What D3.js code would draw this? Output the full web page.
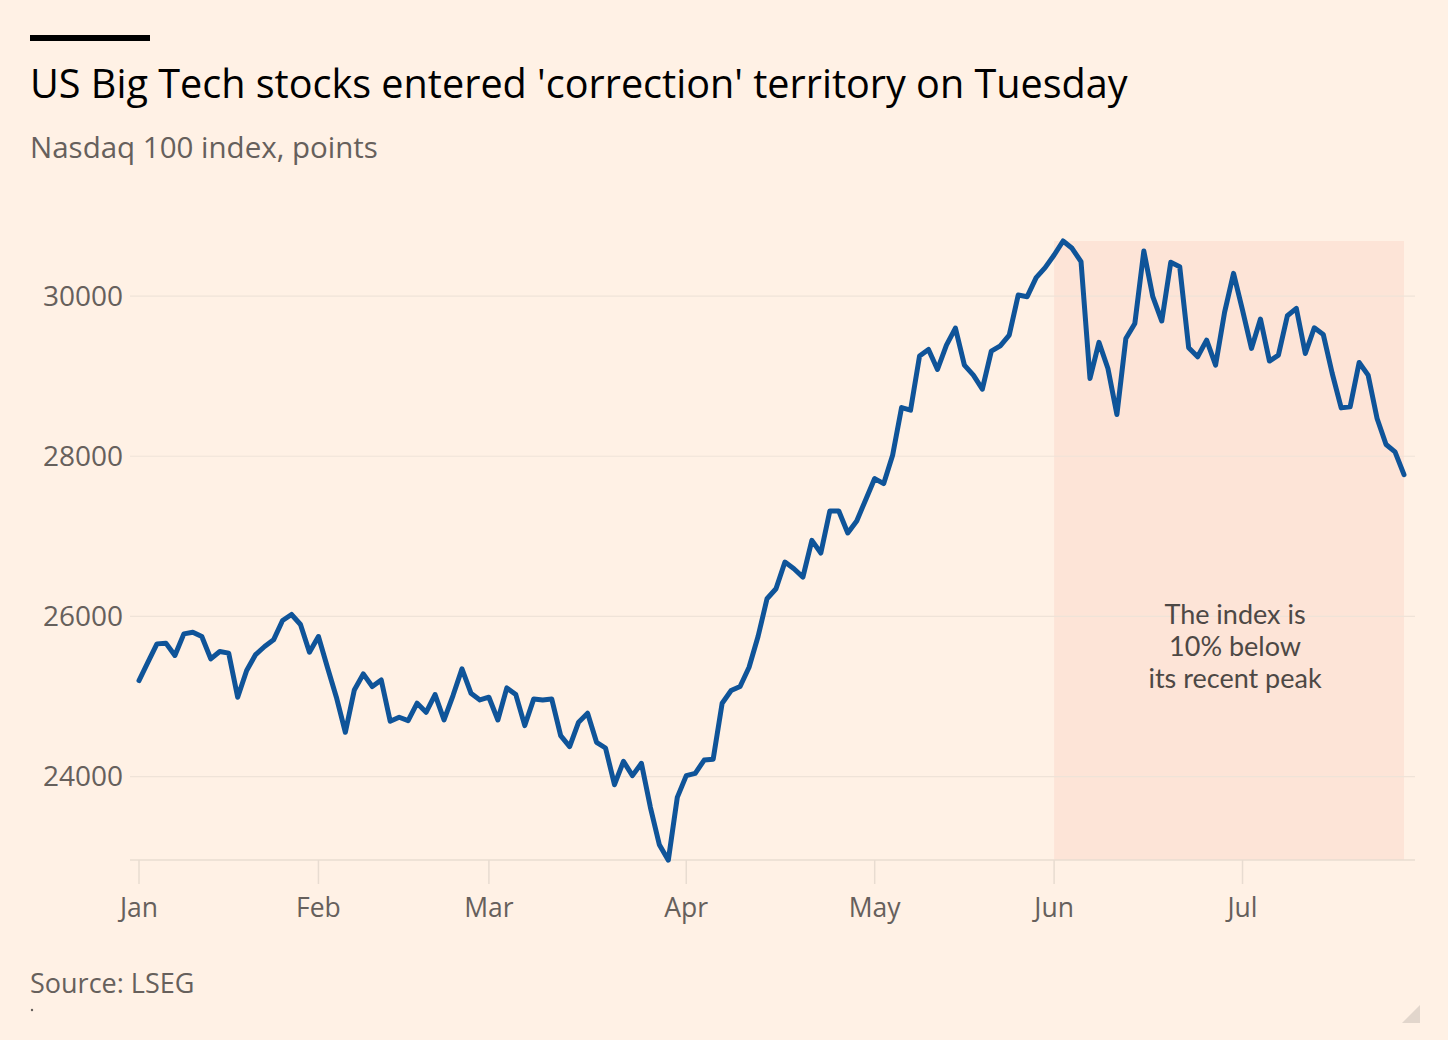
<!DOCTYPE html>
<html>
<head>
<meta charset="utf-8">
<script src="https://cdn.jsdelivr.net/npm/d3@7"></script>
<style>
  html, body { margin: 0; padding: 0; background: #fff1e5; }
  svg { display: block; font-family: "Open Sans", "Noto Sans", sans-serif; }
</style>
</head>
<body>
<svg id="svg01" width="1448" height="1040"></svg>
<script>
// Nasdaq 100 closing points, one value per trading session
const closes = [
  25200, 25429, 25658, 25667, 25513, 25783, 25804, 25750, 25471, 25563,
  25542, 24992, 25325, 25525, 25625, 25708, 25950, 26025, 25900, 25554,
  25750, 25367, 24992, 24554, 25083, 25283, 25125, 25208, 24692, 24742,
  24700, 24917, 24804, 25025, 24708, 25013, 25346, 25042, 24958, 24992,
  24708, 25108, 25025, 24638, 24971, 24958, 24971, 24513, 24375, 24680,
  24792, 24429, 24358, 23900, 24192, 24013, 24167, 23617, 23150, 22958,
  23742, 24013, 24042, 24208, 24219, 24917, 25075, 25125, 25367, 25750,
  26221, 26346, 26679, 26596, 26492, 26950, 26792, 27317, 27317, 27042,
  27192, 27458, 27721, 27658, 28013, 28608, 28575, 29250, 29333, 29083,
  29388, 29600, 29138, 29013, 28838, 29313, 29379, 29513, 30012, 29992,
  30229, 30354, 30512, 30687, 30596, 30429, 28971, 29421, 29096, 28521,
  29471, 29658, 30562, 29992, 29688, 30421, 30367, 29354, 29242, 29450,
  29138, 29796, 30283, 29825, 29346, 29713, 29188, 29263, 29754, 29846,
  29283, 29604, 29521, 29033, 28604, 28617, 29171, 29013, 28471, 28146,
  28054, 27771
];

// month labels and the session index where each month starts
const monthLabels = ["Jan", "Feb", "Mar", "Apr", "May", "Jun", "Jul"];
const monthStart  = [0, 20, 39, 61, 82, 102, 123];

const yTicks = [24000, 26000, 28000, 30000];

// correction period shaded from June start to the latest session
const shadeFrom = 102;
const noteLines = ["The index is", "10% below", "its recent peak"];

const svg = d3.select("#svg01");
const width = 1448, height = 1040;
const margin = {left: 139, right: 44, top: 241, bottom: 180};
const plotLeft = 130, plotRight = 1415;

const x = d3.scaleLinear()
  .domain([0, closes.length - 1])
  .range([margin.left, width - margin.right]);

const y = d3.scaleLinear()
  .domain([22960, 30687])
  .range([height - margin.bottom, margin.top]);

// header
svg.append("rect").attr("x", 30).attr("y", 35).attr("width", 120).attr("height", 6).attr("fill", "#000");

svg.append("text")
  .attr("x", 30).attr("y", 98)
  .attr("font-size", 39.6).attr("fill", "#000")
  .text("US Big Tech stocks entered 'correction' territory on Tuesday");

svg.append("text")
  .attr("x", 30).attr("y", 158)
  .attr("font-size", 29.5).attr("fill", "#66605c")
  .text("Nasdaq 100 index, points");

// shaded region
const peak = d3.max(closes);
svg.append("rect")
  .attr("x", x(shadeFrom))
  .attr("y", y(peak))
  .attr("width", x(closes.length - 1) - x(shadeFrom))
  .attr("height", y(y.domain()[0]) - y(peak))
  .attr("fill", "#fde4d7");

// gridlines + y labels
const grid = svg.append("g");
grid.selectAll("line")
  .data(yTicks)
  .join("line")
  .attr("x1", plotLeft).attr("x2", plotRight)
  .attr("y1", d => y(d)).attr("y2", d => y(d))
  .attr("stroke", "#efe3d8").attr("stroke-width", 1.2);

grid.selectAll("text")
  .data(yTicks)
  .join("text")
  .attr("x", 123).attr("y", d => y(d))
  .attr("dy", "0.35em")
  .attr("text-anchor", "end")
  .attr("font-size", 28).attr("fill", "#66605c")
  .text(d => d);

// x axis
const base = y(y.domain()[0]);
const xAxis = svg.append("g");
xAxis.append("line")
  .attr("x1", plotLeft).attr("x2", plotRight)
  .attr("y1", base).attr("y2", base)
  .attr("stroke", "#e8dcd1").attr("stroke-width", 1.5);

const ticks = xAxis.selectAll("g.tick")
  .data(monthLabels)
  .join("g")
  .attr("class", "tick")
  .attr("transform", (d, i) => `translate(${x(monthStart[i])},0)`);

ticks.append("line")
  .attr("y1", base).attr("y2", base + 24)
  .attr("stroke", "#e8dcd1").attr("stroke-width", 1.5);

ticks.append("text")
  .attr("y", 917)
  .attr("text-anchor", "middle")
  .attr("font-size", 26.5).attr("fill", "#66605c")
  .text(d => d);

// the line
const line = d3.line()
  .x((d, i) => x(i))
  .y(d => y(d));

svg.append("path")
  .attr("d", line(closes))
  .attr("fill", "none")
  .attr("stroke", "#0f5499")
  .attr("stroke-width", 5)
  .attr("stroke-linejoin", "round")
  .attr("stroke-linecap", "round");

// annotation (Lato: tighter line box so the three lines don't collide)
const midX = (x(shadeFrom) + x(closes.length - 1)) / 2 + 6;
svg.append("g").selectAll("text")
  .data(noteLines)
  .join("text")
  .attr("x", midX)
  .attr("y", (d, i) => 624 + i * 32)
  .attr("text-anchor", "middle")
  .attr("font-family", "Lato, sans-serif")
  .attr("font-size", 27).attr("fill", "#4d4845")
  .text(d => d);

// source
svg.append("text")
  .attr("x", 30).attr("y", 993)
  .attr("font-size", 27).attr("fill", "#66605c")
  .text("Source: LSEG");

svg.append("circle").attr("cx", 32).attr("cy", 1010).attr("r", 1.2).attr("fill", "#66605c");

// corner mark
svg.append("path")
  .attr("d", "M1420,1005 L1420,1023 L1402,1023 Z")
  .attr("fill", "#e2d6cc");
</script>
</body>
</html>
